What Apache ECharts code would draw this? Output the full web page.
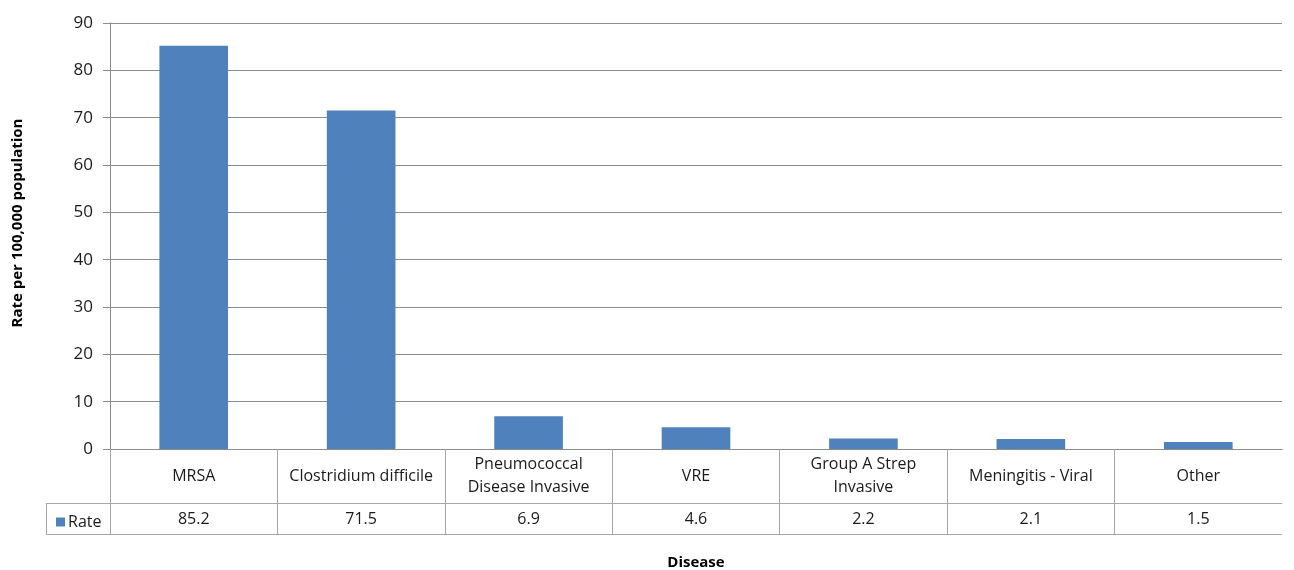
<!DOCTYPE html>
<html>
<head>
<meta charset="utf-8">
<script src="https://cdn.jsdelivr.net/npm/echarts@6/dist/echarts.min.js"></script>
<style>
  html, body { margin: 0; padding: 0; background: #ffffff; }
  #chart { width: 1294px; height: 570px; }
</style>
</head>
<body>
<div id="chart"></div>
<script>
// Disease categories (line breaks follow the table's cell wrapping)
const categories = [
  'MRSA',
  'Clostridium difficile',
  'Pneumococcal\nDisease Invasive',
  'VRE',
  'Group A Strep\nInvasive',
  'Meningitis - Viral',
  'Other'
];
// Rate per 100,000 population
const rates = [85.2, 71.5, 6.9, 4.6, 2.2, 2.1, 1.5];
const seriesName = 'Rate';
const yTicks = { min: 0, max: 90, interval: 10 };

const FONT = '"Open Sans", "Noto Sans", sans-serif';
const TEXT = '#1a1a1a';
const GRID_LINE = '#8c8c8c';
const TABLE_LINE = '#a6a6a6';
const BAR = '#4f81bd';

const chart = echarts.init(document.getElementById('chart'), null, { renderer: 'canvas' });

const G = { left: 110, right: 12, top: 23, bottom: 121 };
const tableLeft = 46;
const row1 = 449, row2 = 503, row3 = 534;
const W = 1294;
const tableRight = W - G.right;

chart.setOption({
  animation: false,
  textStyle: { fontFamily: FONT },
  grid: Object.assign({ outerBoundsMode: 'none', containLabel: false }, G),
  legend: {
    data: [seriesName],
    left: tableLeft + 5,
    top: row2 + 6,
    icon: 'rect',
    itemWidth: 9,
    itemHeight: 9,
    itemGap: 4,
    textStyle: { fontFamily: FONT, fontSize: 16, color: TEXT, padding: [0, 0, 0, -2] },
    selectedMode: false
  },
  xAxis: [
    {
      type: 'category',
      data: categories,
      position: 'bottom',
      name: 'Disease',
      nameLocation: 'middle',
      nameGap: 106,
      nameTextStyle: { fontFamily: FONT, fontSize: 15, fontWeight: 'bold', color: '#000' },
      axisLine: { show: true, lineStyle: { color: GRID_LINE, width: 1 } },
      axisTick: { show: true, length: row3 - row1, lineStyle: { color: TABLE_LINE } },
      axisLabel: {
        interval: 0,
        margin: 27,
        verticalAlign: 'middle',
        align: 'center',
        lineHeight: 23,
        fontFamily: FONT,
        fontSize: 16,
        color: TEXT
      }
    },
    {
      type: 'category',
      data: rates.map(v => v.toFixed(1)),
      position: 'bottom',
      offset: row2 - row1,
      axisLine: { show: false },
      axisTick: { show: false },
      axisLabel: {
        interval: 0,
        margin: 16,
        verticalAlign: 'middle',
        align: 'center',
        fontFamily: FONT,
        fontSize: 16,
        color: TEXT
      }
    }
  ],
  yAxis: {
    type: 'value',
    min: yTicks.min,
    max: yTicks.max,
    interval: yTicks.interval,
    name: 'Rate per 100,000 population',
    nameLocation: 'middle',
    nameGap: 85,
    nameRotate: 90,
    nameTextStyle: { fontFamily: FONT, fontSize: 15, fontWeight: 'bold', color: '#000', padding: [0, 0, 0, 26] },
    axisLine: { show: true, lineStyle: { color: GRID_LINE } },
    axisTick: { show: true, length: 7, lineStyle: { color: GRID_LINE } },
    axisLabel: { margin: 17, fontFamily: FONT, fontSize: 17, color: TEXT },
    splitLine: { show: true, lineStyle: { color: GRID_LINE, width: 1 } }
  },
  series: [{
    name: seriesName,
    type: 'bar',
    xAxisIndex: 0,
    data: rates,
    barWidth: '41%',
    itemStyle: { color: BAR }
  }],
  graphic: [
    // the table has no closing border on its right side
    { type: 'rect', silent: true, z: 100, shape: { x: tableRight - 1, y: row1 + 1, width: 6, height: row3 - row1 + 1 }, style: { fill: '#ffffff' } },
    { type: 'line', silent: true, z: 101, shape: { x1: tableLeft, y1: row2 + 0.5, x2: tableRight, y2: row2 + 0.5 }, style: { stroke: TABLE_LINE, lineWidth: 1 } },
    { type: 'line', silent: true, z: 101, shape: { x1: tableLeft, y1: row3 + 0.5, x2: tableRight, y2: row3 + 0.5 }, style: { stroke: TABLE_LINE, lineWidth: 1 } },
    { type: 'line', silent: true, z: 101, shape: { x1: tableLeft + 0.5, y1: row2, x2: tableLeft + 0.5, y2: row3 }, style: { stroke: TABLE_LINE, lineWidth: 1 } }
  ]
});
</script>
</body>
</html>
